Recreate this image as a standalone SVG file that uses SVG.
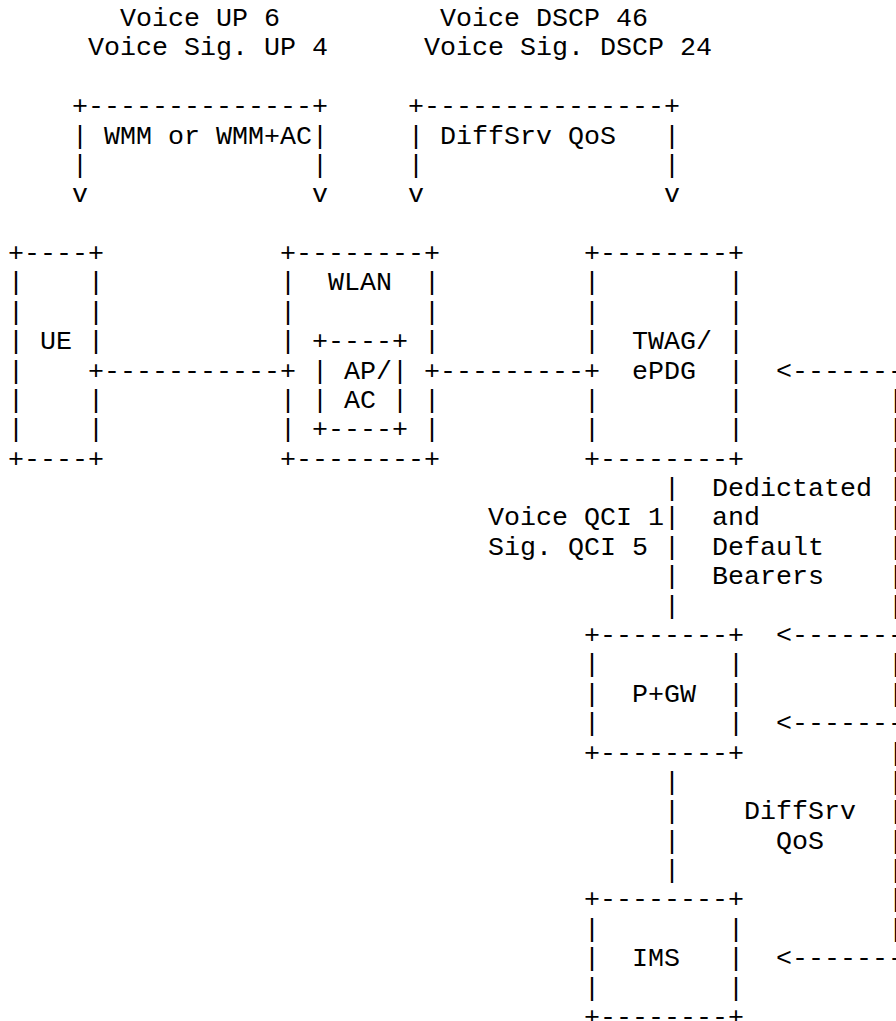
<svg xmlns="http://www.w3.org/2000/svg" width="896" height="1021" viewBox="0 0 896 1021" xml:space="preserve">
<style>
text{font-family:"Liberation Mono","Courier New",monospace;font-size:26.667px;fill:#000;white-space:pre}
</style>
<rect x="0" y="0" width="896" height="1021" fill="#fff"/>
<g id="labels">
<text x="120" y="26">Voice UP 6</text>
<text x="88" y="55.38">Voice Sig. UP 4</text>
<text x="440" y="26">Voice DSCP 46</text>
<text x="424" y="55.38">Voice Sig. DSCP 24</text>
<text x="488" y="525.46">Voice QCI 1</text>
<text x="488" y="554.84">Sig. QCI 5</text>
<text x="712" y="496.08">Dedictated</text>
<text x="712" y="525.46">and</text>
<text x="712" y="554.84">Default</text>
<text x="712" y="584.22">Bearers</text>
<text x="744" y="819.26">DiffSrv</text>
<text x="776" y="848.64">QoS</text>
</g>
<g id="bracket-wmm">
<text x="72" y="114.14">+--------------+</text>
<text x="72" y="143.52">| WMM or WMM+AC|</text>
<text x="72" y="172.9">|              |</text>
<text x="72" y="202.28">v              v</text>
</g>
<g id="bracket-diffserv">
<text x="408" y="114.14">+---------------+</text>
<text x="408" y="143.52">| DiffSrv QoS   |</text>
<text x="408" y="172.9">|               |</text>
<text x="408" y="202.28">v               v</text>
</g>
<g id="node-ue">
<text x="8" y="261.04">+----+</text>
<text x="8" y="290.42">|    |</text>
<text x="8" y="319.8">|    |</text>
<text x="8" y="349.18">| UE |</text>
<text x="8" y="378.56">|</text>
<text x="8" y="407.94">|    |</text>
<text x="8" y="437.32">|    |</text>
<text x="8" y="466.7">+----+</text>
</g>
<g id="node-wlan">
<text x="280" y="261.04">+--------+</text>
<text x="280" y="290.42">|  WLAN  |</text>
<text x="280" y="319.8">|        |</text>
<text x="280" y="349.18">|</text>
<text x="424" y="349.18">|</text>
<text x="280" y="407.94">|</text>
<text x="424" y="407.94">|</text>
<text x="280" y="437.32">|</text>
<text x="424" y="437.32">|</text>
<text x="280" y="466.7">+--------+</text>
<g id="node-apac">
<text x="312" y="349.18">+----+</text>
<text x="312" y="378.56">| AP/|</text>
<text x="312" y="407.94">| AC |</text>
<text x="312" y="437.32">+----+</text>
</g>
</g>
<g id="node-twag">
<text x="584" y="261.04">+--------+</text>
<text x="584" y="290.42">|        |</text>
<text x="584" y="319.8">|        |</text>
<text x="584" y="349.18">|  TWAG/ |</text>
<text x="632" y="378.56">ePDG  |</text>
<text x="584" y="407.94">|        |</text>
<text x="584" y="437.32">|        |</text>
<text x="584" y="466.7">+--------+</text>
</g>
<g id="node-pgw">
<text x="584" y="642.98">+--------+</text>
<text x="584" y="672.36">|        |</text>
<text x="584" y="701.74">|  P+GW  |</text>
<text x="584" y="731.12">|        |</text>
<text x="584" y="760.5">+--------+</text>
</g>
<g id="node-ims">
<text x="584" y="907.4">+--------+</text>
<text x="584" y="936.78">|        |</text>
<text x="584" y="966.16">|  IMS   |</text>
<text x="584" y="995.54">|        |</text>
<text x="584" y="1024.92">+--------+</text>
</g>
<g id="connectors">
<text x="88" y="378.56">+-----------+</text>
<text x="424" y="378.56">+---------+</text>
<text x="664" y="496.08">|</text>
<text x="664" y="525.46">|</text>
<text x="664" y="554.84">|</text>
<text x="664" y="584.22">|</text>
<text x="664" y="613.6">|</text>
<text x="664" y="789.88">|</text>
<text x="664" y="819.26">|</text>
<text x="664" y="848.64">|</text>
<text x="664" y="878.02">|</text>
<text x="776" y="378.56">&lt;-------+</text>
<text x="776" y="642.98">&lt;-------+</text>
<text x="776" y="731.12">&lt;-------+</text>
<text x="776" y="966.16">&lt;-------+</text>
<text x="888" y="407.94">|</text>
<text x="888" y="437.32">|</text>
<text x="888" y="466.7">|</text>
<text x="888" y="496.08">|</text>
<text x="888" y="525.46">|</text>
<text x="888" y="554.84">|</text>
<text x="888" y="584.22">|</text>
<text x="888" y="613.6">|</text>
<text x="888" y="672.36">|</text>
<text x="888" y="701.74">|</text>
<text x="888" y="760.5">|</text>
<text x="888" y="789.88">|</text>
<text x="888" y="819.26">|</text>
<text x="888" y="848.64">|</text>
<text x="888" y="878.02">|</text>
<text x="888" y="907.4">|</text>
<text x="888" y="936.78">|</text>
</g>
</svg>
